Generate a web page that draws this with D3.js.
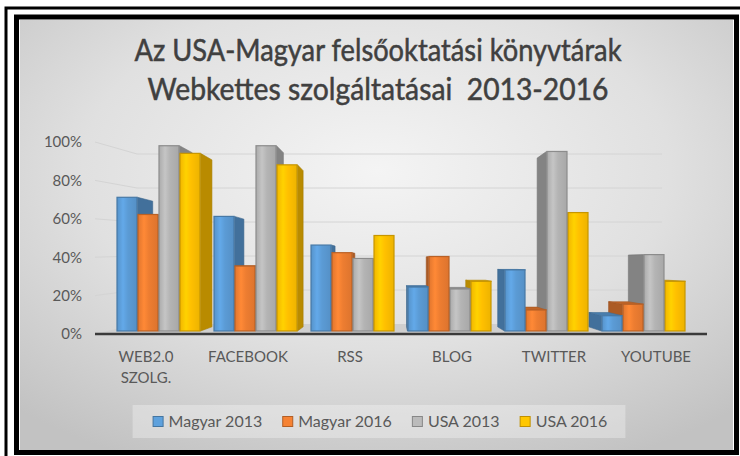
<!DOCTYPE html>
<html>
<head>
<meta charset="utf-8">
<script src="https://cdnjs.cloudflare.com/ajax/libs/d3/7.8.5/d3.min.js"></script>
<style>
body { margin: 0; background: #fff; }
text { font-family: Lato, "Open Sans", sans-serif; }
</style>
</head>
<body>
<div id="chart"></div>
<script>
// data
var titleLines = ["Az USA-Magyar felsőoktatási könyvtárak", "Webkettes szolgáltatásai  2013-2016"];
var titleWidths = [487, 461];
var categories = ["WEB2.0 SZOLG.", "FACEBOOK", "RSS", "BLOG", "TWITTER", "YOUTUBE"];
var series = ["Magyar 2013", "Magyar 2016", "USA 2013", "USA 2016"];
var magyar2013 = [0.70, 0.60, 0.45, 0.23, 0.32, 0.08];
var magyar2016 = [0.61, 0.34, 0.41, 0.39, 0.11, 0.14];
var usa2013 = [0.97, 0.97, 0.38, 0.22, 0.94, 0.40];
var usa2016 = [0.93, 0.87, 0.50, 0.26, 0.62, 0.26];
var yTicks = [0, 0.2, 0.4, 0.6, 0.8, 1];
var colors = ["#5b9bd5", "#ed7d31", "#b4b4b4", "#ffc000"];

var values = [magyar2013, magyar2016, usa2013, usa2016];

var width = 740, height = 456;

var svg = d3.select("#chart")
    .append("svg")
    .attr("width", width)
    .attr("height", height);

var defs = svg.append("defs");
var bg = defs.append("radialGradient").attr("id", "bg")
    .attr("cx", "50%").attr("cy", "35%").attr("r", "75%");
bg.append("stop").attr("offset", "0%").attr("stop-color", "#f4f4f4");
bg.append("stop").attr("offset", "55%").attr("stop-color", "#e0e0e0");
bg.append("stop").attr("offset", "100%").attr("stop-color", "#c2c2c2");

colors.forEach(function(c, j) {
    var g = defs.append("linearGradient").attr("id", "bar" + j)
        .attr("x1", "0%").attr("x2", "100%").attr("y1", "0%").attr("y2", "0%");
    g.append("stop").attr("offset", "0%").attr("stop-color", d3.color(c).darker(0.15));
    g.append("stop").attr("offset", "30%").attr("stop-color", d3.color(c).brighter(0.25));
    g.append("stop").attr("offset", "55%").attr("stop-color", c);
    g.append("stop").attr("offset", "100%").attr("stop-color", d3.color(c).darker(0.2));
});

// background + frames
svg.append("rect")
    .attr("x", 20).attr("y", 20).attr("width", 713).attr("height", 430)
    .attr("fill", "url(#bg)");
svg.append("path")
    .attr("d", "M6,456V8H740")
    .attr("fill", "none").attr("stroke", "#000").attr("stroke-width", 3);
svg.append("rect")
    .attr("x", 16.5).attr("y", 17).attr("width", 720).attr("height", 435.5)
    .attr("fill", "none").attr("stroke", "#000").attr("stroke-width", 5);

// title (narrow, Calibri-like: squeeze glyphs to the measured widths)
svg.append("g").selectAll("text")
    .data(titleLines)
    .enter()
    .append("text")
    .attr("x", 378)
    .attr("y", function(d, i) { return 61 + i * 39; })
    .attr("text-anchor", "middle")
    .attr("font-size", 30)
    .attr("fill", "#404040")
    .attr("stroke", "#404040")
    .attr("stroke-width", 0.5)
    .attr("textLength", function(d, i) { return titleWidths[i]; })
    .attr("lengthAdjust", "spacingAndGlyphs")
    .style("white-space", "pre")
    .text(function(d) { return d; });

// scales
var x0 = d3.scaleBand().domain(categories).range([110, 692]).paddingInner(0.134).paddingOuter(0.067);
var x1 = d3.scaleBand().domain(series).range([0, x0.bandwidth()]);
var xLab = d3.scaleBand().domain(categories).range([95, 707]);
var yBar = d3.scaleLinear().domain([0, 1]).range([331, 140]);
var yFront = d3.scaleLinear().domain([0, 1]).range([334, 142]);
var yWall = d3.scaleLinear().domain([0, 1]).range([324, 154]);

// perspective: vanishing point and depth factors
var V = [391, 262], sBar = 0.94, sWall = 0.858;
function proj(p, s) { return [V[0] + s * (p[0] - V[0]), V[1] + s * (p[1] - V[1])]; }

var left = xLab.range()[0], right = xLab.range()[1];
var backL = proj([left, 0], sWall)[0], backR = proj([right, 0], sWall)[0];

// gridlines (left wall + back wall)
svg.append("g").selectAll("path")
    .data(yTicks.slice(1))
    .enter()
    .append("path")
    .attr("d", function(d) {
        return "M" + left + "," + yFront(d) + "L" + backL + "," + yWall(d) + "H" + backR;
    })
    .attr("fill", "none")
    .attr("stroke", "#d4d4d4")
    .attr("stroke-width", 1);

// floor
svg.append("path")
    .attr("d", "M" + left + "," + yFront(0) + "H" + right + "L" + backR + "," + yWall(0) + "H" + backL + "Z")
    .attr("fill", "#cfcfcf");
svg.append("line")
    .attr("x1", left).attr("x2", right)
    .attr("y1", yFront(0)).attr("y2", yFront(0))
    .attr("stroke", "#3a3a3a").attr("stroke-width", 2.5);

// y axis
var yAxis = svg.append("g")
    .attr("transform", "translate(82,0)")
    .call(d3.axisLeft(yFront).tickValues(yTicks).tickFormat(d3.format(".0%")).tickSize(0).tickPadding(0));
yAxis.select(".domain").remove();
yAxis.selectAll("text")
    .attr("font-family", "Lato, sans-serif")
    .attr("font-size", 15)
    .attr("fill", "#595959");

// x labels
svg.append("g").selectAll("text")
    .data(categories)
    .enter()
    .append("text")
    .attr("text-anchor", "middle")
    .attr("font-size", 15)
    .attr("fill", "#595959")
    .each(function(d) {
        var el = d3.select(this);
        d.split(" ").forEach(function(w, k) {
            el.append("tspan")
                .attr("x", xLab(d) + xLab.bandwidth() / 2)
                .attr("y", 362 + k * 21)
                .text(w);
        });
    });

// bars
var bars = [];
categories.forEach(function(c, i) {
    series.forEach(function(s, j) {
        bars.push({cat: c, ser: s, j: j, v: values[j][i]});
    });
});
bars.forEach(function(d) {
    d.x0 = x0(d.cat) + x1(d.ser);
    d.x1 = d.x0 + x1.bandwidth();
    d.yt = yBar(d.v);
    d.yb = yBar(0);
});
bars.sort(function(a, b) {
    return Math.abs((b.x0 + b.x1) / 2 - V[0]) - Math.abs((a.x0 + a.x1) / 2 - V[0]);
});

function poly(pts) { return "M" + pts.map(function(p) { return p[0] + "," + p[1]; }).join("L") + "Z"; }

var barG = svg.append("g");
bars.forEach(function(d) {
    var g = barG.append("g");
    var c = colors[d.j];
    var tl = [d.x0, d.yt], tr = [d.x1, d.yt], bl = [d.x0, d.yb], br = [d.x1, d.yb];
    var side = null;
    if (d.x1 < V[0]) side = [tr, br, proj(br, sBar), proj(tr, sBar)];
    else if (d.x0 > V[0]) side = [tl, bl, proj(bl, sBar), proj(tl, sBar)];
    if (side) {
        g.append("path").attr("d", poly(side))
            .attr("fill", d3.color(c).darker(0.9))
            .attr("stroke", d3.color(c).darker(1.2)).attr("stroke-width", 0.6);
    }
    if (d.yt > V[1]) {
        g.append("path").attr("d", poly([tl, tr, proj(tr, sBar), proj(tl, sBar)]))
            .attr("fill", d3.color(c).darker(0.6))
            .attr("stroke", d3.color(c).darker(1.0)).attr("stroke-width", 0.6);
    }
    g.append("rect")
        .attr("x", d.x0 + 0.5).attr("y", d.yt)
        .attr("width", d.x1 - d.x0 - 1).attr("height", d.yb - d.yt)
        .attr("fill", "url(#bar" + d.j + ")")
        .attr("stroke", d3.color(c).darker(0.7)).attr("stroke-width", 1.2);
});

// legend
var legBox = svg.append("rect");
var leg = svg.append("g");
var lx = 0;
series.forEach(function(s, j) {
    var it = leg.append("g").attr("transform", "translate(" + lx + ",0)");
    it.append("rect")
        .attr("x", 0.5).attr("y", 416.5).attr("width", 10).attr("height", 10)
        .attr("fill", d3.color(colors[j]).brighter(0.1))
        .attr("stroke", d3.color(colors[j]).darker(0.8));
    var t = it.append("text")
        .attr("x", 16).attr("y", 427)
        .attr("font-size", 16)
        .attr("fill", "#595959")
        .text(s);
    lx += 16 + t.node().getComputedTextLength() + 20;
});
var total = lx - 20;
var lstart = 380 - total / 2;
leg.attr("transform", "translate(" + lstart + ",0)");
legBox
    .attr("x", lstart - 20).attr("y", 405)
    .attr("width", total + 38).attr("height", 33)
    .attr("fill", "#ffffff").attr("fill-opacity", 0.3);
</script>
</body>
</html>
